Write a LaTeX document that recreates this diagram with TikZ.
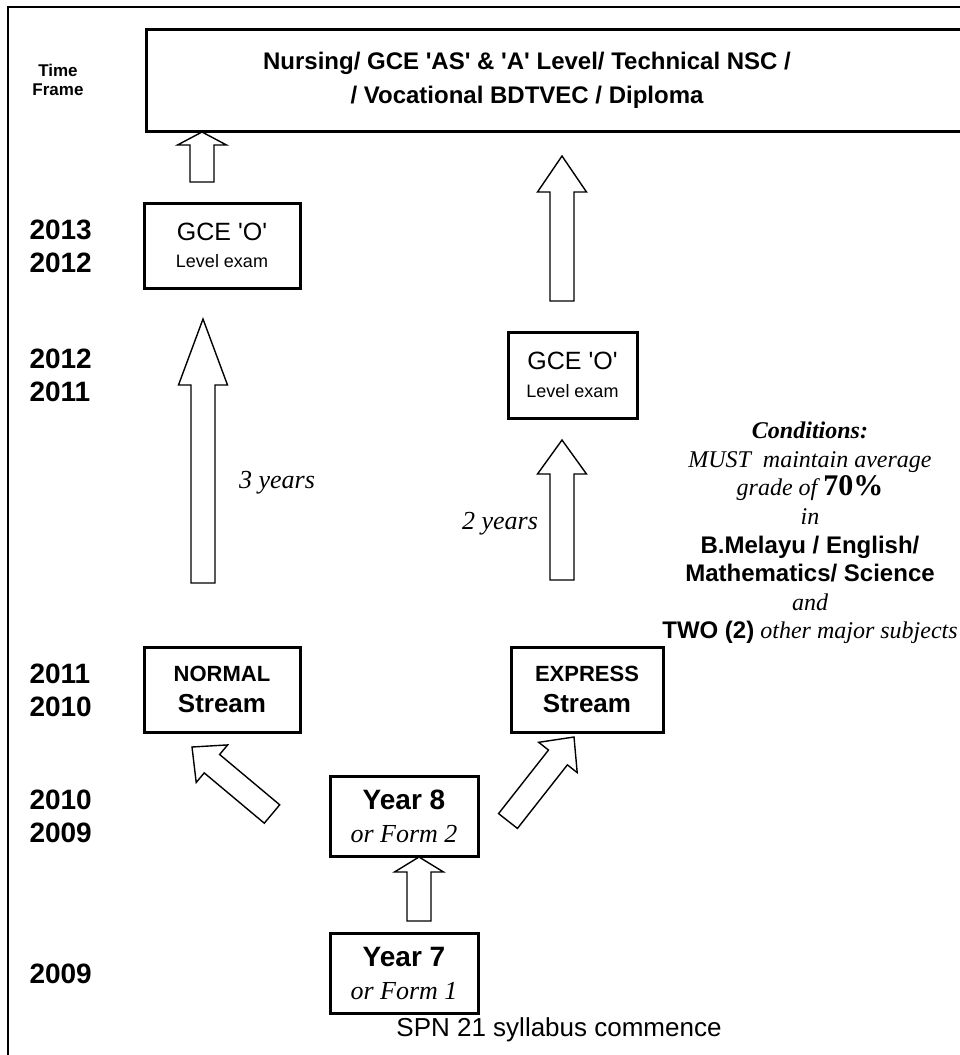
\documentclass[tikz,border=0pt]{standalone}
\usepackage{fontspec}
\setmainfont{Liberation Serif}
\newfontfamily\arialfont{Liberation Sans}
\usetikzlibrary{calc}

\newcommand{\fsz}[2]{\fontsize{#1}{#2}\selectfont}
% hollow block arrow from tail #1 to tip #2, head length #3
\newcommand{\fatarrow}[3]{%
  \draw[fat] let \p1=($#2-#1$), \n1={atan2(\y1,\x1)} in
    ($#1+(\n1+90:12pt)$) -- ($#2+(\n1+180:#3)+(\n1+90:12pt)$)
    -- ($#2+(\n1+180:#3)+(\n1+90:24.5pt)$) -- #2
    -- ($#2+(\n1+180:#3)+(\n1-90:24.5pt)$) -- ($#2+(\n1+180:#3)+(\n1-90:12pt)$)
    -- ($#1+(\n1-90:12pt)$) -- cycle;}

\tikzset{
  box/.style={draw, line width=3pt, inner sep=0pt, align=center},
  gce/.style={box, font=\arialfont\fsz{25}{27.5}},
  stream/.style={box, minimum height=85, font=\arialfont\bfseries\fsz{22}{31}},
  yearbox/.style={box, minimum width=148, minimum height=80, font=\arialfont\bfseries\fsz{28}{33}},
  fat/.style={line width=1.4pt, fill=white, line join=miter},
  year/.style={anchor=west, align=left, font=\arialfont\bfseries\fsz{28}{33}},
}

\begin{document}
\begin{tikzpicture}[x=1pt, y=-1pt]
    \useasboundingbox (0,0) rectangle (960,1055);
    \draw[line width=2.5pt] (8,7) rectangle (1100,1200);

    % top
    \node[box, minimum width=855, minimum height=102, anchor=north west] (top) at (145,28) {};
    \node[align=center, font=\arialfont\bfseries\fsz{24}{34}] (toptext) at (527,80)
        {Nursing/ GCE 'AS' \& 'A' Level/ Technical NSC /\\/ Vocational BDTVEC / Diploma};
    \node[align=center, font=\arialfont\bfseries\fsz{17}{19}] (tf) at (58,80) {Time\\Frame};

    % years
    \node[year] (y1) at (26,246) {2013\\2012};
    \node[year] (y2) at (26,375.5) {2012\\2011};
    \node[year] (y3) at (26,690) {2011\\2010};
    \node[year] (y4) at (26,816.5) {2010\\2009};
    \node[year] (y5) at (26,974) {2009};

    % boxes
    \node[gce, minimum width=156, minimum height=85] (gceL) at (222,245.5)
        {GCE 'O'\\{\fsz{18}{27.5}Level exam}};
    \node[gce, minimum width=129, minimum height=86] (gceR) at (572.5,375)
        {GCE 'O'\\{\fsz{18}{27.5}Level exam}};
    \node[stream, minimum width=156] (normal) at (222,689.5)
        {NORMAL\\{\fsz{26}{31}Stream}};
    \node[stream, minimum width=152] (express) at (587,689.5)
        {EXPRESS\\{\fsz{26}{31}Stream}};
    \node[yearbox] (yr8) at (404,816)
        {Year 8\\{\rmfamily\mdseries\itshape\fsz{26}{33}or Form 2}};
    \node[yearbox] (yr7) at (404,973)
        {Year 7\\{\rmfamily\mdseries\itshape\fsz{26}{33}or Form 1}};
    \node[font=\arialfont\fsz{26}{30}] (spn) at (559,1030) {SPN 21 syllabus commence};

    % arrows
    \coordinate (a1t) at (202,182); \coordinate (a1h) at (202,132);
    \fatarrow{(a1t)}{(a1h)}{13pt}
    \coordinate (a2t) at (562,301); \coordinate (a2h) at (562,156);
    \fatarrow{(a2t)}{(a2h)}{36pt}
    \coordinate (a3t) at (203,583); \coordinate (a3h) at (203,319);
    \fatarrow{(a3t)}{(a3h)}{66pt}
    \coordinate (a4t) at (562,580); \coordinate (a4h) at (562,440);
    \fatarrow{(a4t)}{(a4h)}{34pt}
    \coordinate (a5t) at (272,814); \coordinate (a5h) at (192,747);
    \fatarrow{(a5t)}{(a5h)}{26pt}
    \coordinate (a6t) at (508,821); \coordinate (a6h) at (574,737);
    \fatarrow{(a6t)}{(a6h)}{26pt}
    \coordinate (a7t) at (419,921); \coordinate (a7h) at (419,857);
    \fatarrow{(a7t)}{(a7h)}{15pt}

    % labels
    \node[font=\itshape\fsz{26}{30}] (l3) at (277,483) {3 years};
    \node[font=\itshape\fsz{26}{30}] (l2) at (500,524) {2 years};
    \node[align=center, font=\fsz{24}{28.6}] (cond) at (810,533)
        {{\bfseries\itshape Conditions:}\\
         {\itshape MUST\ \ maintain average}\\
         {\itshape grade of }{\bfseries\fsz{30}{28.6}70\%}\\
         {\itshape in}\\
         {\arialfont\bfseries B.Melayu / English/}\\
         {\arialfont\bfseries Mathematics/ Science}\\
         {\itshape and}\\
         {\arialfont\bfseries TWO (2)} {\itshape other major subjects}};
\end{tikzpicture}
\end{document}
